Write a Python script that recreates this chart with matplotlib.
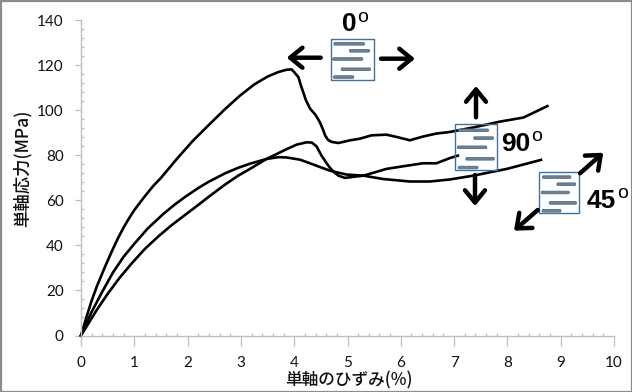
import matplotlib
matplotlib.use('Agg')
import matplotlib.pyplot as plt
from matplotlib.patches import Rectangle, FancyArrowPatch, FancyBboxPatch
from matplotlib.ticker import MultipleLocator

W, H = 632, 392

# 0 deg
strain_0 = [0, 0.1, 0.2, 0.3, 0.45, 0.59, 0.7, 0.8, 0.9, 1.0, 1.17, 1.35, 1.5, 1.8, 2.1, 2.44, 2.7, 2.98, 3.25, 3.5, 3.7,
            3.85, 3.95, 4.0, 4.08, 4.12, 4.17, 4.22, 4.30, 4.4, 4.48, 4.54, 4.58, 4.63, 4.7, 4.83, 5.05, 5.23,
            5.45, 5.73, 5.92, 6.17, 6.42, 6.67, 6.92, 7.36, 7.86, 8.3, 8.75]
stress_0 = [0, 8, 15.5, 22, 30.5, 38, 43.5, 48, 52, 55.7, 61, 66.3, 70, 78.5, 86.5, 94.5, 100.5, 106.5, 111.5, 115, 117,
            118, 118.2, 117, 114.7, 111.5, 108, 104.5, 100.7, 98, 94.8, 91.5, 88.9, 87, 86, 85.5, 86.7, 87.4,
            88.9, 89.2, 88.2, 86.7, 88.4, 89.7, 90.4, 92.4, 95, 96.8, 101.9]

# 45 deg
strain_45 = [0, 0.2, 0.4, 0.6, 0.8, 1.01, 1.25, 1.545, 1.75, 1.95, 2.2, 2.39, 2.7, 2.95, 3.17, 3.48, 3.7, 3.85,
             4.11, 4.42, 4.67, 4.98, 5.3, 5.67, 6.17, 6.55, 6.92, 7.36, 7.99, 8.63]
stress_45 = [0, 10.5, 19.5, 28, 35, 41, 47.5, 54, 58, 61.5, 65.5, 68.2, 72, 74.5, 76.3, 78.4, 79.2, 79.1,
             78.1, 75.4, 73.2, 71.5, 71, 69.5, 68.4, 68.4, 69.3, 71, 74, 78]

# 90 deg
strain_90 = [0, 0.3, 0.5, 0.72, 0.95, 1.2, 1.45, 1.7, 1.95, 2.2, 2.39, 2.7, 2.95, 3.17, 3.48, 3.86, 4.05, 4.23, 4.33,
             4.42, 4.51, 4.6, 4.67, 4.75, 4.83, 4.95, 5.3, 5.73, 6.11, 6.42, 6.67, 6.92, 7.07]
stress_90 = [0, 11.5, 18.5, 25.5, 32, 38.5, 44, 49, 53.5, 58, 61.5, 67, 71, 74, 78.4, 82.8, 84.8, 85.8, 85.7,
             84, 80, 76.8, 74.5, 72.5, 71, 70, 71, 74, 75.4, 76.5, 76.5, 78.8, 79.9]

xlabel = '単軸のひずみ(%)'
ylabel = '単軸応力(MPa)'

# bars inside the little laminate boxes (start, end, height as fraction of box)
bar_start = [0.08, 0.44, 0.05, 0.25, 0.07]
bar_end = [0.79, 0.91, 0.75, 0.93, 0.54]
bar_pos = [0.13, 0.30, 0.50, 0.75, 0.94]

plt.rcParams['font.family'] = ['Lato', 'DejaVu Sans']
GRAY = '#BFBFBF'
BLUE = '#41719C'

fig = plt.figure(figsize=(W / 100, H / 100), dpi=100)
ax = fig.add_axes([81 / W, 1 - 335.5 / H, (614 - 81) / W, (335.5 - 20.3) / H])
ax.set_xlim(0, 10)
ax.set_ylim(0, 140)
for s in ['top', 'right']:
    ax.spines[s].set_visible(False)
for s in ['left', 'bottom']:
    ax.spines[s].set_color(GRAY)
    ax.spines[s].set_linewidth(1.0)
ax.xaxis.set_major_locator(MultipleLocator(1))
ax.xaxis.set_minor_locator(MultipleLocator(0.2))
ax.yaxis.set_major_locator(MultipleLocator(20))
ax.yaxis.set_minor_locator(MultipleLocator(4))
ax.tick_params(axis='x', which='major', direction='out', length=7, width=0.9, color=GRAY, pad=8, labelsize=11, labelcolor='#111111')
ax.tick_params(axis='y', which='major', direction='out', length=4.5, width=0.9, color=GRAY, pad=8, labelsize=11, labelcolor='#111111')
ax.tick_params(which='minor', direction='in', length=2.5, width=0.9, color=GRAY)

for xs, ys in [(strain_0, stress_0), (strain_45, stress_45), (strain_90, stress_90)]:
    ax.plot(xs, ys, color='black', lw=1.9, solid_joinstyle='round', clip_on=False)

# overlay in pixel coordinates for the annotations and the chart border
ov = fig.add_axes([0, 0, 1, 1], facecolor='none')
ov.set_xlim(0, W)
ov.set_ylim(H, 0)
ov.axis('off')
ov.add_patch(Rectangle((0.5, 0.5), W - 1, H - 1, fill=False, ec='#8C8C8C', lw=1.6))


def laminate(x0, y0, x1, y1):
    ov.add_patch(Rectangle((x0, y0), x1 - x0, y1 - y0, fill=False, ec=BLUE, lw=1.0))
    for a, b, p in zip(bar_start, bar_end, bar_pos):
        xa = x0 + a * (x1 - x0)
        xb = x0 + b * (x1 - x0)
        yy = y0 + p * (y1 - y0)
        ov.add_patch(FancyBboxPatch((xa, yy - 1.3), xb - xa, 2.6, boxstyle='round,pad=0,rounding_size=1',
                                    fc='#7F7F7F', ec=BLUE, lw=0.6))


def arrow(x0, y0, x1, y1):
    ov.add_patch(FancyArrowPatch((x0, y0), (x1, y1), arrowstyle='->,head_length=5.5,head_width=4.5',
                                 color='black', lw=3.2, shrinkA=0, shrinkB=0, mutation_scale=1.6))


def angle_label(x, y, num, ox, oy):
    ov.text(x, y, num, family='Liberation Sans', fontsize=19, fontweight='bold', ha='left', va='center', color='black')
    ov.text(ox, oy, 'o', family='Liberation Sans', fontsize=14, ha='center', va='center', color='black')


laminate(330.5, 38.5, 373.5, 79.5)
arrow(320.7, 57.7, 286.7, 57.7)
arrow(381, 58.7, 415, 58.7)
angle_label(342, 24, '0', 363, 17)

laminate(455.3, 124.3, 497.3, 170.3)
arrow(476, 117.3, 476, 86)
arrow(475, 175, 475, 206)
angle_label(501, 144, '90', 537, 136)

laminate(539.3, 171.7, 579.3, 213.3)
arrow(580, 173.3, 603.3, 152.7)
arrow(537.7, 210, 514, 230.7)
angle_label(587, 201, '45', 622.7, 193)

cjk = ['Noto Sans CJK JP', 'DejaVu Sans']
ov.text(348.5, 380, xlabel, family=cjk, fontsize=12, fontweight='medium', ha='center', va='center', color='#111111')
ov.text(22, 168, ylabel, family=cjk, fontsize=12.5, fontweight='medium', rotation=90, ha='center', va='center', color='#111111')

plt.savefig('out.png', dpi=100)
